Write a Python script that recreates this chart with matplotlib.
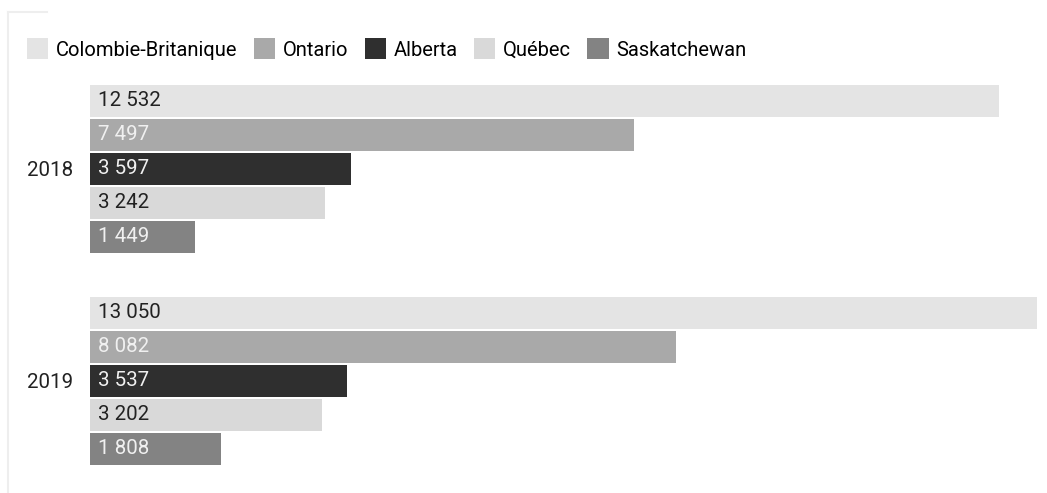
import matplotlib
matplotlib.use("Agg")
import matplotlib.pyplot as plt
from matplotlib.patches import Patch
from matplotlib.lines import Line2D

years = ["2018", "2019"]
provinces = ["Colombie-Britanique", "Ontario", "Alberta", "Québec", "Saskatchewan"]
values = {
    "Colombie-Britanique": [12532, 13050],
    "Ontario": [7497, 8082],
    "Alberta": [3597, 3537],
    "Québec": [3242, 3202],
    "Saskatchewan": [1449, 1808],
}
colors = ["#e4e4e4", "#a9a9a9", "#2f2f2f", "#d9d9d9", "#838383"]
text_colors = ["#222222", "#f0f0f0", "#f0f0f0", "#222222", "#f0f0f0"]

plt.rcParams["font.family"] = ["Roboto", "DejaVu Sans"]
FS = 14.8

W, H = 1047, 493
fig = plt.figure(figsize=(W / 100, H / 100), dpi=100)
ax_left, ax_right = 90 / W, 1037 / W
ax_top, ax_bot = 1 - 83 / H, 1 - 466 / H
ax = fig.add_axes([ax_left, ax_bot, ax_right - ax_left, ax_top - ax_bot])

bar_h = 34 / 212
n = len(provinces)
for i, (p, c, tc) in enumerate(zip(provinces, colors, text_colors)):
    ys = [g + (i - (n - 1) / 2) * bar_h for g in range(len(years))]
    vals = values[p]
    ax.barh(ys, vals, height=bar_h * 0.97, color=c, linewidth=0)
    for y, v in zip(ys, vals):
        ax.text(110, y, f"{v:,}".replace(",", " "), va="center", ha="left",
                fontsize=FS, color=tc)

ax.set_xlim(0, 13050)
ax.set_ylim(1 + 85 / 212, -86 / 212)
ax.set_yticks(range(len(years)))
ax.set_yticklabels(years, fontsize=FS, color="#222222")
ax.tick_params(axis="y", length=0, pad=12.5)
ax.set_xticks([])
for s in ax.spines.values():
    s.set_visible(False)

# faint frame lines
fig.add_artist(Line2D([8 / W, 8 / W], [1 - 12 / H, 0], color="#eeeeee", lw=1.5))
fig.add_artist(Line2D([8 / W, 47 / W], [1 - 12 / H, 1 - 12 / H], color="#eeeeee", lw=1.5))

handles = [Patch(facecolor=c, edgecolor="none") for c in colors]
fig.legend(handles, provinces, loc="center left", bbox_to_anchor=(27 / W, 1 - 49 / H),
           ncol=5, frameon=False, fontsize=14.5, handlelength=1.05, handleheight=1.2,
           handletextpad=0.4, columnspacing=0.8, borderaxespad=0, borderpad=0)

fig.savefig("out.png", dpi=100, facecolor="white")
